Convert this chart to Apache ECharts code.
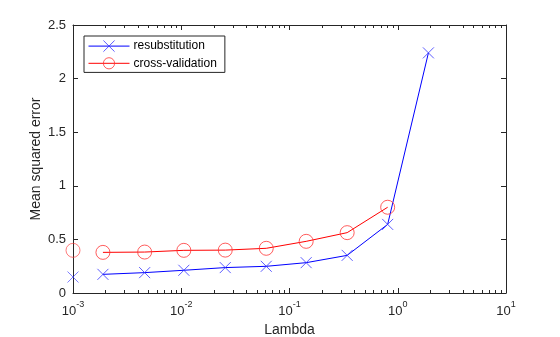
<!DOCTYPE html>
<html>
<head>
<meta charset="utf-8">
<script src="https://cdn.jsdelivr.net/npm/echarts@6/dist/echarts.min.js"></script>
<style>html,body{margin:0;padding:0;background:#fff}#c{width:560px;height:337px}</style>
</head>
<body>
<div id="c"></div>
<script>
// Data
const lambda = [0.001, 0.00189, 0.00459, 0.01057, 0.0255, 0.061, 0.1426, 0.341, 0.807, 1.92];
const resubstitution = [0.149, 0.174, 0.190, 0.212, 0.237, 0.249, 0.283, 0.351, 0.640, 2.24];
const crossValidation = [0.398, 0.379, 0.382, 0.398, 0.400, 0.417, 0.482, 0.563, 0.800];
const xTickValues = [0.001, 0.01, 0.1, 1, 10];
const yTickLabels = ['0', '0.5', '1', '1.5', '2', '2.5'];
const seriesNames = ['resubstitution', 'cross-validation'];

const FONT = 'Liberation Sans, Arial, Helvetica, sans-serif';
const AX = '#262626';
const crossPath = 'path://M0,0L10,10M10,0L0,10';

// minor tick positions (in log10 space) for decades 1e-3..1e1
const minorTicks = [];
for (let d = -3; d < 1; d++) for (let k = 2; k <= 9; k++) minorTicks.push(d + Math.log10(k));

const chart = echarts.init(document.getElementById('c'), null, {renderer: 'canvas'});

const pairs = (xs, ys, from) => ys.slice(from).map((y, i) => [xs[i + from], y]);

const majorAxisCommon = {
  type: 'log', logBase: 10, min: 0.001, max: 10,
  axisLine: {show: true, onZero: false, lineStyle: {color: AX, width: 1}},
  splitLine: {show: false},
  minorTick: {show: false}
};
const minorAxisCommon = {
  type: 'value', min: -3, max: 1,
  axisLine: {show: false, onZero: false},
  axisLabel: {show: false},
  splitLine: {show: false},
  axisTick: {show: true, inside: true, length: 3, customValues: minorTicks, lineStyle: {color: AX}}
};

chart.setOption({
  animation: false,
  backgroundColor: '#fff',
  textStyle: {fontFamily: FONT},
  grid: {left: 73, top: 25, width: 433, height: 268, containLabel: false, outerBoundsMode: 'none'},
  legend: {
    data: seriesNames,
    orient: 'vertical',
    left: 84, top: 36,
    backgroundColor: '#fff',
    borderColor: AX, borderWidth: 1, borderRadius: 0,
    padding: [2, 8, 1, 4],
    itemGap: 1,
    itemWidth: 41, itemHeight: 14,
    itemStyle: {borderWidth: 0.8},
    lineStyle: {width: 1},
    textStyle: {fontFamily: FONT, fontSize: 12, color: '#000', padding: [0, 0, 0, -1]}
  },
  xAxis: [
    Object.assign({}, majorAxisCommon, {
      position: 'bottom',
      name: 'Lambda', nameLocation: 'middle', nameGap: 30, nameMoveOverlap: false,
      nameTextStyle: {fontFamily: FONT, fontSize: 14, color: AX},
      axisLabel: {
        show: true, margin: 7, color: AX,
        customValues: xTickValues,
        formatter: v => '{b|10}{s|' + Math.round(Math.log10(v)) + '}',
        rich: {
          b: {fontFamily: FONT, fontSize: 13, color: AX, verticalAlign: 'bottom', lineHeight: 18},
          s: {fontFamily: FONT, fontSize: 9, color: AX, verticalAlign: 'top', lineHeight: 18}
        }
      },
      axisTick: {show: true, inside: true, length: 5, customValues: xTickValues, lineStyle: {color: AX}}
    }),
    Object.assign({}, majorAxisCommon, {
      position: 'top',
      axisLabel: {show: false},
      axisTick: {show: true, inside: true, length: 5, customValues: xTickValues, lineStyle: {color: AX}}
    }),
    Object.assign({}, minorAxisCommon, {position: 'bottom'}),
    Object.assign({}, minorAxisCommon, {position: 'top'})
  ],
  yAxis: [
    {
      type: 'value', min: 0, max: 2.5, interval: 0.5, position: 'left',
      name: 'Mean squared error', nameLocation: 'middle', nameGap: 30, nameMoveOverlap: false,
      nameTextStyle: {fontFamily: FONT, fontSize: 14, color: AX},
      axisLine: {show: true, onZero: false, lineStyle: {color: AX}},
      axisTick: {show: true, inside: true, length: 5, lineStyle: {color: AX}},
      axisLabel: {show: true, margin: 7, fontFamily: FONT, fontSize: 13, color: AX,
        formatter: (v) => yTickLabels[Math.round(v / 0.5)] ?? String(v)},
      splitLine: {show: false}
    },
    {
      type: 'value', min: 0, max: 2.5, interval: 0.5, position: 'right',
      axisLine: {show: true, onZero: false, lineStyle: {color: AX}},
      axisTick: {show: true, inside: true, length: 5, lineStyle: {color: AX}},
      axisLabel: {show: false},
      splitLine: {show: false}
    }
  ],
  series: [
    {
      name: seriesNames[0], type: 'line', xAxisIndex: 0, yAxisIndex: 0,
      data: pairs(lambda, resubstitution, 1),
      symbol: crossPath, symbolSize: 11, showSymbol: true, clip: false,
      lineStyle: {color: '#0000ff', width: 1},
      itemStyle: {color: 'none', borderColor: '#3333ff', borderWidth: 0.8},
      z: 3
    },
    {
      name: seriesNames[1], type: 'line', xAxisIndex: 0, yAxisIndex: 0,
      data: pairs(lambda, crossValidation, 1),
      symbol: 'circle', symbolSize: 14, showSymbol: true, clip: false,
      lineStyle: {color: '#ff0000', width: 1},
      itemStyle: {color: 'none', borderColor: '#ff3333', borderWidth: 0.8},
      z: 3
    },
    {
      type: 'scatter', xAxisIndex: 0, yAxisIndex: 0,
      data: [[lambda[0], resubstitution[0]]],
      symbol: crossPath, symbolSize: 11, clip: false,
      itemStyle: {color: 'none', borderColor: '#3333ff', borderWidth: 0.8},
      z: 3
    },
    {
      type: 'scatter', xAxisIndex: 0, yAxisIndex: 0,
      data: [[lambda[0], crossValidation[0]]],
      symbol: 'circle', symbolSize: 14, clip: false,
      itemStyle: {color: 'none', borderColor: '#ff3333', borderWidth: 0.8},
      z: 3
    }
  ]
});
</script>
</body>
</html>
